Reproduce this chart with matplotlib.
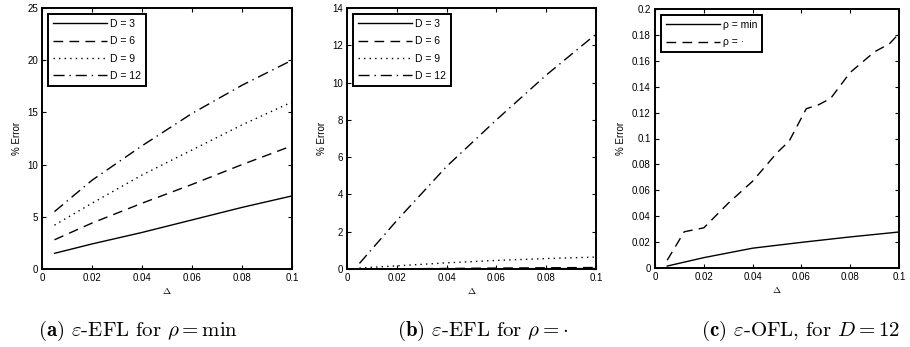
import matplotlib
matplotlib.use("Agg")
import matplotlib.pyplot as plt
from matplotlib.ticker import FuncFormatter

plt.rcParams['font.family'] = ['Liberation Sans', 'DejaVu Sans']
plt.rcParams['mathtext.fontset'] = 'cm'

# panel (a): eps-EFL, rho = min
delta = [0.005, 0.02, 0.04, 0.06, 0.08, 0.1]
err_a_d3 = [1.5, 2.4, 3.5, 4.7, 5.9, 7.0]
err_a_d6 = [2.8, 4.4, 6.3, 8.1, 10.0, 11.8]
err_a_d9 = [4.2, 6.3, 9.0, 11.4, 13.8, 16.0]
err_a_d12 = [5.5, 8.5, 11.8, 14.9, 17.6, 20.0]

# panel (b): eps-EFL, rho = .
err_b_d3 = [0.0, 0.005, 0.01, 0.015, 0.02, 0.025]
err_b_d6 = [0.0, 0.01, 0.03, 0.05, 0.065, 0.08]
err_b_d9 = [0.05, 0.17, 0.33, 0.46, 0.56, 0.64]
err_b_d12 = [0.3, 2.6, 5.5, 8.0, 10.4, 12.6]

# panel (c): eps-OFL, D = 12
delta_c_min = [0.005, 0.02, 0.04, 0.06, 0.08, 0.1]
err_c_min = [0.0015, 0.008, 0.0153, 0.0198, 0.024, 0.0278]
delta_c_dot = [0.005, 0.012, 0.02, 0.03, 0.04, 0.05, 0.055, 0.062, 0.067,
               0.072, 0.08, 0.09, 0.096, 0.1]
err_c_dot = [0.006, 0.028, 0.031, 0.05, 0.067, 0.089, 0.098, 0.123, 0.126,
             0.131, 0.151, 0.167, 0.173, 0.181]

labels_d = ['D = 3', 'D = 6', 'D = 9', 'D = 12']
labels_rho = [u'\u03c1 = min', u'\u03c1 = \u00b7']

W, H = 910, 347
fig = plt.figure(figsize=(W / 100, H / 100), dpi=100)

def px_axes(x0, x1, y0, y1):
    return fig.add_axes([x0 / W, 1 - y1 / H, (x1 - x0) / W, (y1 - y0) / H])

ax_a = px_axes(42, 292, 8, 269)
ax_b = px_axes(347, 596, 8, 269)
ax_c = px_axes(655, 899, 9, 268)

styles = [dict(ls='-'), dict(ls=(0, (7, 4.5))), dict(ls=(0, (1, 3))),
          dict(ls=(0, (8, 3.5, 1, 3.5)))]

for ax, series in [(ax_a, [err_a_d3, err_a_d6, err_a_d9, err_a_d12]),
                   (ax_b, [err_b_d3, err_b_d6, err_b_d9, err_b_d12])]:
    for ys, st, lab in zip(series, styles, labels_d):
        ax.plot(delta, ys, color='black', lw=1.0, label=lab, **st)

ax_c.plot(delta_c_min, err_c_min, color='black', lw=1.0, ls='-', label=labels_rho[0])
ax_c.plot(delta_c_dot, err_c_dot, color='black', lw=1.0, ls=(0, (7, 4.5)), label=labels_rho[1])

ax_a.set_ylim(0, 25)
ax_a.set_yticks(range(0, 26, 5))
ax_b.set_ylim(0, 14)
ax_b.set_yticks(range(0, 15, 2))
ax_c.set_ylim(0, 0.2)
ax_c.set_yticks([i * 0.02 for i in range(11)])

gfmt = FuncFormatter(lambda v, p: ('%g' % round(v, 4)))
for ax in (ax_a, ax_b, ax_c):
    ax.set_xlim(0, 0.1)
    ax.set_xticks([0, 0.02, 0.04, 0.06, 0.08, 0.1])
    ax.xaxis.set_major_formatter(gfmt)
    ax.yaxis.set_major_formatter(gfmt)
    ax.tick_params(direction='in', length=3, width=0.8, labelsize=7,
                   top=True, right=True, pad=3)
    for s in ax.spines.values():
        s.set_linewidth(1.4)
    ax.set_ylabel('% Error', fontsize=7, labelpad=4)
    ax.set_xlabel(r'$\Delta$', fontsize=7, labelpad=2)
    leg = ax.legend(loc='upper left', fontsize=7.5, handlelength=5.2,
                    fancybox=False, framealpha=1, edgecolor='black',
                    borderaxespad=0.6, labelspacing=0.7, handletextpad=0.3,
                    borderpad=0.45)
    leg.get_frame().set_linewidth(1.4)

captions = [r'$\mathbf{(a)}$ $\varepsilon$-EFL for $\rho = \min$',
            r'$\mathbf{(b)}$ $\varepsilon$-EFL for $\rho = \cdot$',
            r'$\mathbf{(c)}$ $\varepsilon$-OFL, for $D = 12$']
cap_x = [138, 483, 800]
for cx, txt in zip(cap_x, captions):
    fig.text(cx / W, 1 - 331 / H, txt, ha='center', va='center',
             fontsize=15, family='cmr10')

fig.savefig('out.png', dpi=100)
